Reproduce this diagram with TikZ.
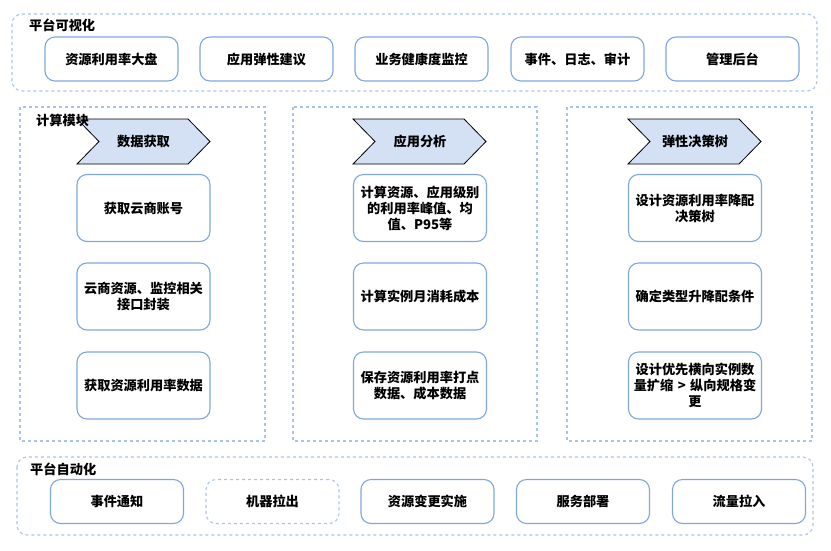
\documentclass[tikz,border=0pt]{standalone}
\usepackage{fontspec}
\setmainfont{Noto Sans CJK SC}
\definecolor{boxblue}{HTML}{7EA6E0}
\definecolor{dashblue}{HTML}{A9C4EB}
\definecolor{chevfill}{HTML}{D4E1F5}
\begin{document}
\begin{tikzpicture}[x=1pt,y=-1pt,
  every node/.style={font=\fontsize{13.2}{16}\selectfont\bfseries},
  box/.style={draw=boxblue,line width=1.1pt,rounded corners=10pt,minimum width=133pt,minimum height=44pt,inner sep=0pt,align=center,text width=126pt},
  tallbox/.style={box,minimum height=67pt},
  dbox/.style={box,draw=dashblue,dash pattern=on 3pt off 3pt},
  group/.style={draw=dashblue,line width=1.1pt,dash pattern=on 3pt off 3pt},
  chev/.style={draw=black,fill=chevfill,line width=0.8pt,line join=miter},
  title/.style={anchor=west,inner sep=0pt,font=\fontsize{13.2}{16}\selectfont\bfseries}]
\useasboundingbox (0,0) rectangle (831,550);
% containers
\draw[group,rounded corners=10pt] (12,14) rectangle (817,91);
\draw[group] (20,107) rectangle (265,441);
\draw[group] (293,107) rectangle (537,441);
\draw[group] (567,107) rectangle (812,441);
\draw[group,rounded corners=10pt] (17,457) rectangle (813,535);
% top row
\node[title] (tv) at (29,25) {平台可视化};
\node[box] (v1) at (111.5,59) {资源利用率大盘};
\node[box] (v2) at (266.5,59) {应用弹性建议};
\node[box] (v3) at (421.5,59) {业务健康度监控};
\node[box] (v4) at (577.5,59) {事件、日志、审计};
\node[box] (v5) at (732.5,59) {管理后台};
% chevrons
\foreach \x/\n in {77/ca,353/cb,628/cc}{
  \draw[chev] (\x,119) -- ++(111,0) -- ++(22,22.5) -- ++(-22,22.5) -- ++(-111,0) -- ++(22,-22.5) -- cycle;
}
\node (ca) at (143.5,141.5) {数据获取};
\node (cb) at (420,141.5) {应用分析};
\node (cc) at (695,141.5) {弹性决策树};
\node[title] (tc) at (36,120) {计算模块};
% left column
\node[tallbox] (a1) at (143.5,208) {获取云商账号};
\node[tallbox] (a2) at (143.5,296.5) {云商资源、监控相关\\接口封装};
\node[tallbox] (a3) at (143.5,385.5) {获取资源利用率数据};
% middle column
\node[tallbox] (b1) at (420,208) {计算资源、应用级别\\的利用率峰值、均\\值、P95等};
\node[tallbox] (b2) at (420,296.5) {计算实例月消耗成本};
\node[tallbox] (b3) at (420,385.5) {保存资源利用率打点\\数据、成本数据};
% right column
\node[tallbox] (c1) at (695,208) {设计资源利用率降配\\决策树};
\node[tallbox] (c2) at (695,296.5) {确定类型升降配条件};
\node[tallbox] (c3) at (695,385.5) {设计优先横向实例数\\量扩缩 > 纵向规格变\\更};
% bottom row
\node[title] (ta) at (30,469) {平台自动化};
\node[box] (p1) at (117,501.5) {事件通知};
\node[dbox] (p2) at (272.5,501.5) {机器拉出};
\node[box] (p3) at (427.5,501.5) {资源变更实施};
\node[box] (p4) at (583,501.5) {服务部署};
\node[box] (p5) at (739,501.5) {流量拉入};
\end{tikzpicture}
\end{document}
